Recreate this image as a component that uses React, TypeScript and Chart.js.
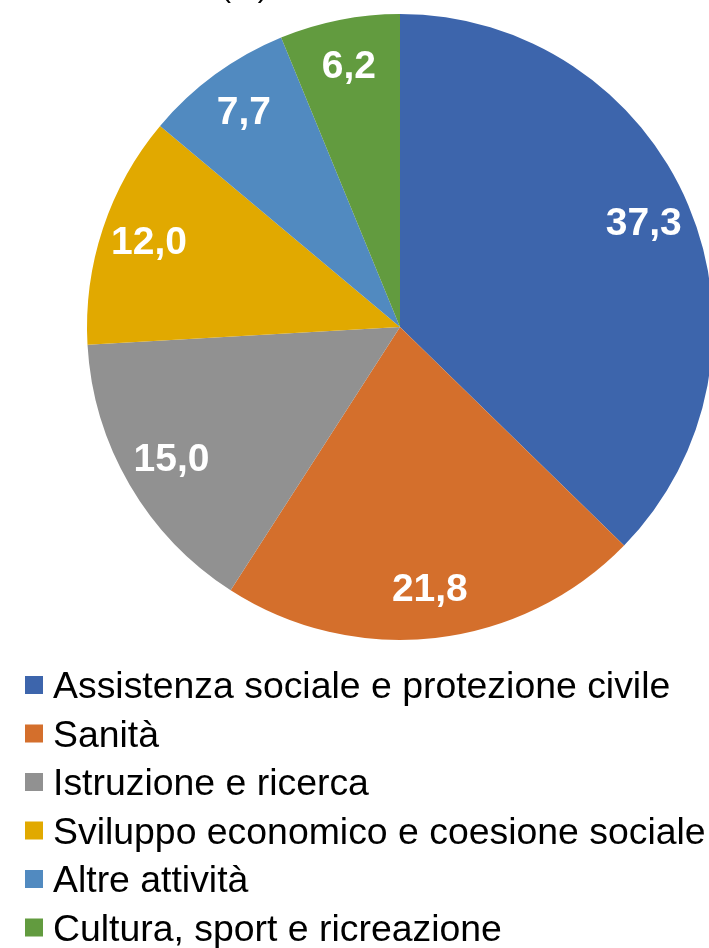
import React, { useEffect, useRef } from "react";
import { Chart, registerables } from "chart.js";

Chart.register(...registerables);

const categories = [
  "Assistenza sociale e protezione civile",
  "Sanità",
  "Istruzione e ricerca",
  "Sviluppo economico e coesione sociale",
  "Altre attività",
  "Cultura, sport e ricreazione",
];
const values = [37.3, 21.8, 15.0, 12.0, 7.7, 6.2];
const valueLabels = ["37,3", "21,8", "15,0", "12,0", "7,7", "6,2"];
const colors = ["#3D65AC", "#D46F2C", "#919191", "#E1A900", "#518AC0", "#629B3F"];
const titleText = "(%)";

const FONT = "'Liberation Sans', Arial, sans-serif";

const labelPlugin = {
  id: "sliceLabels",
  afterDatasetsDraw(chart: any) {
    const ctx = chart.ctx;
    const meta = chart.getDatasetMeta(0);
    ctx.save();
    ctx.fillStyle = "#FFFFFF";
    ctx.font = `bold 39px ${FONT}`;
    ctx.textAlign = "center";
    ctx.textBaseline = "middle";
    meta.data.forEach((arc: any, i: number) => {
      const p = arc.getProps(["x", "y", "startAngle", "endAngle", "outerRadius"], true);
      const mid = (p.startAngle + p.endAngle) / 2;
      const r = p.outerRadius * 0.845;
      ctx.fillText(valueLabels[i], p.x + Math.cos(mid) * r, p.y + Math.sin(mid) * r);
    });
    ctx.restore();
  },
};

const legendPlugin = {
  id: "stackedLegend",
  afterDraw(chart: any) {
    const ctx = chart.ctx;
    ctx.save();
    ctx.font = `37.4px ${FONT}`;
    ctx.textAlign = "left";
    ctx.textBaseline = "alphabetic";
    const labels: string[] = chart.data.labels;
    const bg: string[] = chart.data.datasets[0].backgroundColor;
    labels.forEach((lab, i) => {
      const cy = 685 + i * 48.5;
      ctx.fillStyle = bg[i];
      ctx.fillRect(25, cy - 9, 18, 18);
      ctx.fillStyle = "#000000";
      ctx.fillText(lab, 53, cy + 13);
    });
    ctx.restore();
  },
};

export default function App() {
  const ref = useRef<HTMLCanvasElement | null>(null);
  useEffect(() => {
    if (!ref.current) return;
    const chart = new Chart(ref.current, {
      type: "pie",
      data: {
        labels: categories,
        datasets: [
          {
            data: values,
            backgroundColor: colors,
            borderWidth: 0,
            hoverOffset: 0,
            offset: 0,
          },
        ],
      },
      options: {
        animation: false,
        responsive: false,
        maintainAspectRatio: false,
        events: [],
        layout: { padding: { left: 87, right: 87, top: 14, bottom: 308 } },
        plugins: {
          legend: { display: false },
          tooltip: { enabled: false },
          title: { display: false },
        },
      },
      plugins: [labelPlugin, legendPlugin],
    });
    return () => chart.destroy();
  }, []);

  return (
    <div
      style={{
        position: "fixed",
        left: 0,
        top: 0,
        width: 709,
        height: 948,
        overflow: "hidden",
        background: "#FFFFFF",
      }}
    >
      <div
        style={{
          position: "absolute",
          left: 221,
          top: -30,
          fontFamily: FONT,
          fontSize: 30,
          lineHeight: "34px",
          color: "#000",
          whiteSpace: "nowrap",
        }}
      >
        {titleText}
      </div>
      <canvas ref={ref} width={800} height={948} style={{ display: "block", width: 800, height: 948 }} />
    </div>
  );
}
